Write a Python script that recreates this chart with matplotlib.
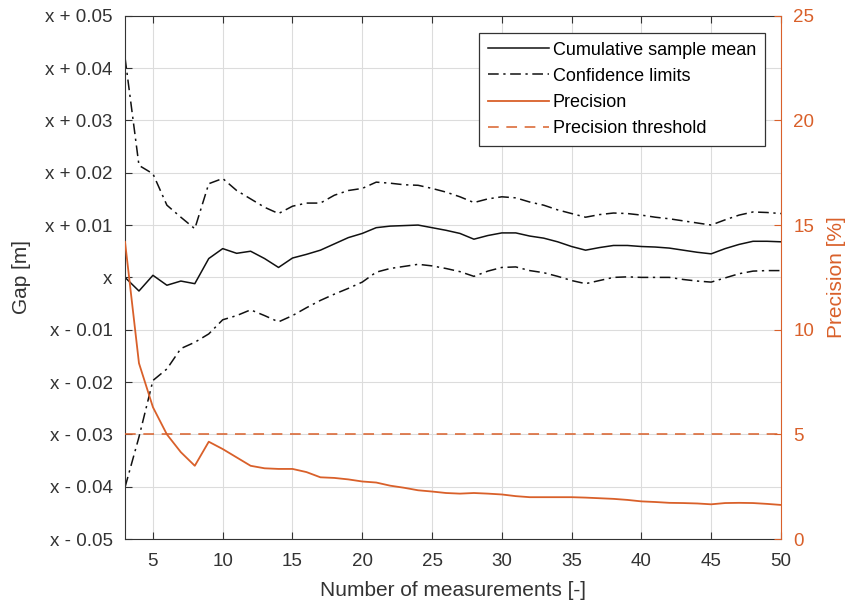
import matplotlib
matplotlib.use("Agg")
import matplotlib.pyplot as plt
import numpy as np

plt.rcParams['font.family'] = ['Liberation Sans', 'DejaVu Sans']

n_meas = list(range(3, 51))
cum_mean = [0.0000, -0.0026, 0.0004, -0.0015, -0.0007, -0.0012, 0.0036, 0.0055, 0.0046, 0.0050,
            0.0036, 0.0019, 0.0037, 0.0044, 0.0052, 0.0064, 0.0076, 0.0084, 0.0095, 0.0098,
            0.0099, 0.0100, 0.0095, 0.0090, 0.0084, 0.0073, 0.0080, 0.0085, 0.0085, 0.0079,
            0.0075, 0.0068, 0.0059, 0.0052, 0.0057, 0.0061, 0.0061, 0.0059, 0.0058, 0.0056,
            0.0052, 0.0048, 0.0045, 0.0055, 0.0063, 0.0069, 0.0069, 0.0068]
upper_cl = [0.0420, 0.0214, 0.0198, 0.0138, 0.0115, 0.0093, 0.0179, 0.0189, 0.0166, 0.0150,
            0.0134, 0.0122, 0.0136, 0.0142, 0.0142, 0.0157, 0.0166, 0.0170, 0.0182, 0.0180,
            0.0177, 0.0176, 0.0170, 0.0163, 0.0154, 0.0143, 0.0150, 0.0154, 0.0152, 0.0144,
            0.0138, 0.0129, 0.0122, 0.0115, 0.0120, 0.0123, 0.0122, 0.0119, 0.0115, 0.0112,
            0.0108, 0.0104, 0.0100, 0.0110, 0.0119, 0.0125, 0.0124, 0.0122]
lower_cl = [-0.0401, -0.0305, -0.0197, -0.0175, -0.0136, -0.0124, -0.0108, -0.0081, -0.0073, -0.0062,
            -0.0073, -0.0085, -0.0073, -0.0058, -0.0044, -0.0032, -0.0021, -0.0009, 0.0010, 0.0017,
            0.0021, 0.0025, 0.0022, 0.0017, 0.0011, 0.0002, 0.0012, 0.0019, 0.0020, 0.0013,
            0.0009, 0.0002, -0.0006, -0.0012, -0.0006, 0.0000, 0.0001, 0.0000, 0.0000, 0.0000,
            -0.0004, -0.0007, -0.0009, -0.0001, 0.0007, 0.0012, 0.0013, 0.0013]
precision = [14.2, 8.4, 6.3, 5.0, 4.15, 3.5, 4.65, 4.3, 3.9, 3.5,
             3.38, 3.35, 3.35, 3.2, 2.95, 2.92, 2.85, 2.75, 2.7, 2.55,
             2.45, 2.33, 2.27, 2.2, 2.17, 2.2, 2.17, 2.13, 2.05, 2.0,
             2.0, 2.0, 2.0, 1.98, 1.95, 1.92, 1.87, 1.8, 1.77, 1.73,
             1.72, 1.7, 1.66, 1.72, 1.73, 1.72, 1.68, 1.63]
threshold = 5

gap_ticks = [-0.05, -0.04, -0.03, -0.02, -0.01, 0, 0.01, 0.02, 0.03, 0.04, 0.05]
gap_labels = ['x - 0.05', 'x - 0.04', 'x - 0.03', 'x - 0.02', 'x - 0.01', 'x',
              'x + 0.01', 'x + 0.02', 'x + 0.03', 'x + 0.04', 'x + 0.05']
x_ticks = [5, 10, 15, 20, 25, 30, 35, 40, 45, 50]
prec_ticks = [0, 5, 10, 15, 20, 25]

orange = '#D9602A'
txt = '#333333'

fig = plt.figure(figsize=(8.47, 6.05), dpi=100)
ax = fig.add_axes([0.1476, 0.109, 0.7744, 0.865])
ax2 = ax.twinx()

dashdot = (0, (7, 3, 1.5, 3))
l1, = ax.plot(n_meas, cum_mean, color='#111111', lw=1.1, label='Cumulative sample mean')
l2, = ax.plot(n_meas, upper_cl, color='#111111', lw=1.1, ls=dashdot, label='Confidence limits')
ax.plot(n_meas, lower_cl, color='#111111', lw=1.1, ls=dashdot)

l3, = ax2.plot(n_meas, precision, color=orange, lw=1.3, label='Precision')
l4 = ax2.axhline(threshold, color=orange, lw=1.1, ls=(0, (7, 5)), label='Precision threshold')

ax.set_xlim(3, 50)
ax.set_ylim(-0.05, 0.05)
ax2.set_ylim(0, 25)

ax.set_xticks(x_ticks)
ax.set_yticks(gap_ticks)
ax.set_yticklabels(gap_labels)
ax2.set_yticks(prec_ticks)

ax.grid(True, color='#dcdcdc', lw=0.8)
ax.set_axisbelow(True)

ax.tick_params(axis='both', direction='in', labelsize=13.5, colors=txt, length=5, top=True)
ax.tick_params(axis='y', right=False, pad=9)
ax.tick_params(axis='x', pad=10)
ax2.tick_params(axis='y', direction='in', labelsize=13.5, colors=orange, length=5, pad=9)
for s in ['left', 'top', 'bottom']:
    ax.spines[s].set_color(txt)
ax2.spines['right'].set_color(orange)
ax.spines['right'].set_visible(False)
ax2.spines['left'].set_visible(False)
ax2.spines['top'].set_visible(False)
ax2.spines['bottom'].set_visible(False)

ax.set_xlabel('Number of measurements [-]', fontsize=15, color=txt, labelpad=8)
ax.set_ylabel('Gap [m]', fontsize=15, color=txt, labelpad=10)
ax2.set_ylabel('Precision [%]', fontsize=15, color=orange, labelpad=9)

leg = ax2.legend(handles=[l1, l2, l3, l4], loc='upper right', fontsize=13,
                 fancybox=False, framealpha=1, edgecolor='#333333',
                 handlelength=3.4, handletextpad=0.2, borderpad=0.5, labelspacing=0.5,
                 borderaxespad=0, bbox_to_anchor=(0.9756, 0.9675))
leg.get_frame().set_linewidth(0.9)

fig.savefig('out.png', dpi=100)
